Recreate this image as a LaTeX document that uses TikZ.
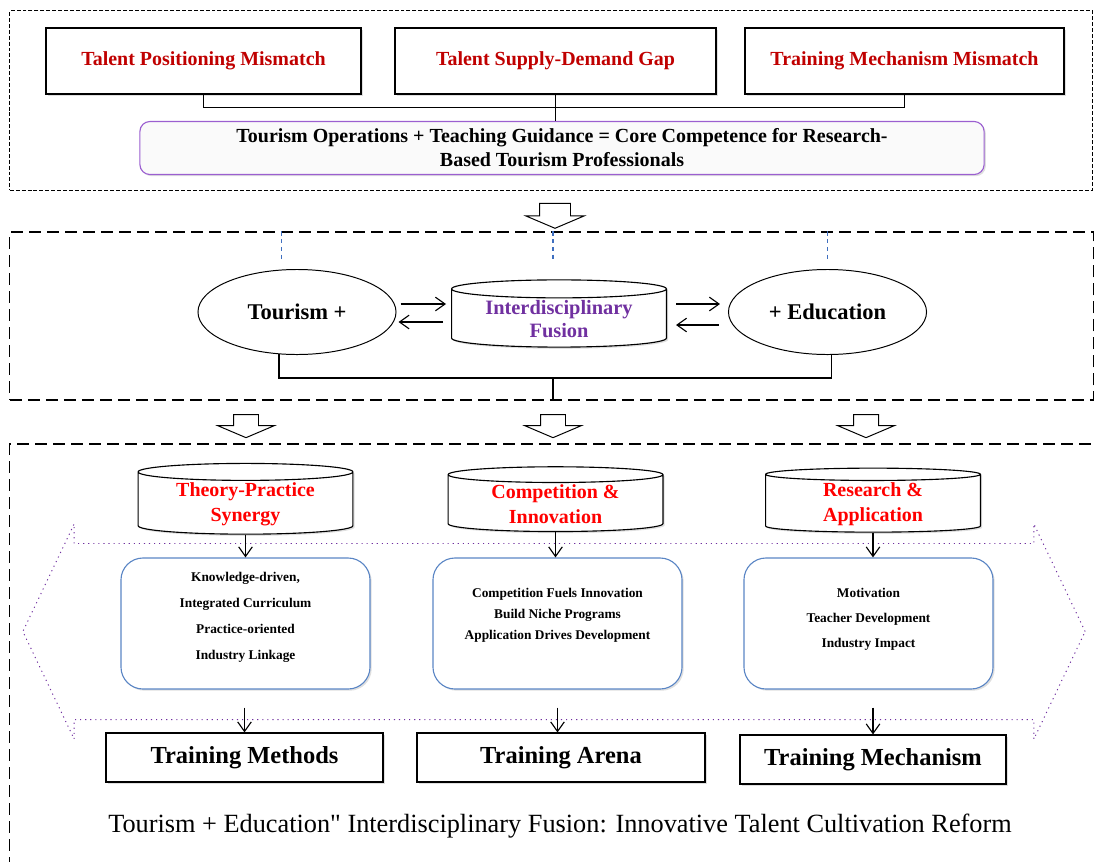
\documentclass[tikz,border=0pt]{standalone}
\usepackage{fontspec}
\setmainfont{Liberation Serif}
\usepackage{tikz}
\usetikzlibrary{shapes.geometric,shapes.arrows,shadows,calc,arrows.meta}

\definecolor{darkred}{HTML}{C00000}
\definecolor{fusepurple}{HTML}{7030A0}
\definecolor{edgepurple}{HTML}{9B5FD0}
\definecolor{boxblue}{HTML}{5B86C5}
\definecolor{guideblue}{HTML}{3F6FBF}

\tikzset{
    softshadow/.style = {drop shadow={shadow xshift=1.2pt, shadow yshift=-1.2pt, opacity=0.25, fill=gray}},
    panel/.style = {rectangle, draw=black, inner sep=0pt},
    finedash/.style = {line width=0.7pt, dash pattern=on 2.8pt off 1.4pt},
    longdash/.style = {line width=0.9pt, dash pattern=on 8.5pt off 4.3pt},
    issue/.style = {rectangle, minimum width=7.875cm, minimum height=1.65cm, text centered, draw=black, line width=0.8pt, fill=white, softshadow, text=darkred, font=\fontsize{14.2}{17}\selectfont\bfseries},
    core/.style = {rectangle, rounded corners=0.25cm, minimum width=21.1cm, minimum height=1.325cm, align=center, draw=edgepurple, line width=0.8pt, fill=gray!4, softshadow, font=\fontsize{14.2}{17}\selectfont\bfseries},
    pole/.style = {ellipse, minimum width=4.95cm, minimum height=2.125cm, draw=black, line width=0.7pt, fill=white, font=\fontsize{16}{19}\selectfont\bfseries},
    drum/.style = {cylinder, shape border rotate=90, aspect=0.12, inner sep=1pt, minimum width=5.37cm, minimum height=1.225cm, align=center, draw=black, line width=0.8pt, fill=white, softshadow, text=red, font=\fontsize{14.2}{17.8}\selectfont\bfseries},
    blockarrow/.style = {single arrow, rotate=-90, draw=black, line width=0.7pt, fill=white, inner xsep=0pt, single arrow tip angle=134},
    band/.style = {double arrow, draw=fusepurple, line width=0.7pt, dash pattern=on 0.8pt off 2.8pt, inner xsep=0pt, inner ysep=2.1875cm, double arrow head extend=0.49cm, double arrow tip angle=129, minimum height=26.55cm},
    skill/.style = {rectangle, rounded corners=0.55cm, minimum width=6.225cm, minimum height=3.275cm, align=center, draw=boxblue, line width=0.8pt, fill=white, softshadow, font=\fontsize{9.5}{18.5}\selectfont\bfseries},
    outcome/.style = {rectangle, minimum height=1.225cm, text centered, draw=black, line width=0.8pt, fill=white, softshadow, font=\fontsize{17.4}{20}\selectfont\bfseries},
    guide/.style = {draw=guideblue, line width=0.9pt, dash pattern=on 3pt off 2.5pt},
    link/.style = {line width=0.8pt},
    arrow/.style = {line width=0.8pt,-{Straight Barb[length=2.4mm,width=3.4mm]}}
}

\begin{document}
\begin{tikzpicture}[x=0.025cm, y=-0.025cm]
\useasboundingbox (0,0) rectangle (1095,861);
\clip (0,0) rectangle (1095,861);

% problems
\node (topframe) [panel, finedash, minimum width=27.05cm, minimum height=4.475cm] at (551,100.5) {};
\node (pos) [issue, minimum width=7.875cm] at (203.5,61) {Talent Positioning Mismatch};
\node (gap) [issue, minimum width=8.025cm] at (555.5,61) {Talent Supply-Demand Gap};
\node (mech) [issue, minimum width=7.975cm] at (904.5,61) {Training Mechanism Mismatch};
\node (core) [core] at (562,148) {Tourism Operations + Teaching Guidance = Core Competence for Research-\\Based Tourism Professionals};

\draw [link] (pos.south) -- ++(0,13) -| (mech.south);
\draw [link] (gap.south) -- (gap.south |- core.north);

\node (down0) [blockarrow, minimum height=0.625cm, inner ysep=0.375cm, single arrow head extend=0.34cm] at (555,212.5) {};

% fusion
\node (midframe) [panel, longdash, minimum width=27.075cm, minimum height=4.2cm] at (551.5,316) {};
\node (tour) [pole] at (297,312) {Tourism +};
\node (fusion) [drum, text=fusepurple, font=\fontsize{14.5}{17}\selectfont\bfseries] at (559,319) {Interdisciplinary\\Fusion};
\node (edu) [pole] at (827.5,312) {+ Education};

\draw [guide] (tour.110 |- midframe.north) -- ++(0,30);
\draw [guide] ($(fusion.north |- midframe.north)+(-6,0)$) -- ++(0,30);
\draw [guide] (edu.north |- midframe.north) -- ++(0,30);

\draw [arrow] ($(tour.east)+(4,-8)$) -- ($(tour.east -| fusion.west)+(-5,-8)$);
\draw [arrow] ($(tour.east -| fusion.west)+(-8,10)$) -- ($(tour.east)+(2,10)$);
\draw [arrow] ($(tour.east -| fusion.east)+(9,-8)$) -- ($(tour.east -| edu.west)+(-8,-8)$);
\draw [arrow] ($(tour.east -| edu.west)+(-9,13)$) -- ($(tour.east -| fusion.east)+(9,13)$);

\coordinate (join) at (553,378);
\draw [link] (tour.-113) |- (join) -| (edu.-85);
\draw [link] (join) -- (join |- midframe.south);

\node (down1) [blockarrow, minimum height=0.575cm, inner ysep=0.3cm, single arrow head extend=0.4cm] at (246,423.5) {};
\node (down2) [blockarrow, minimum height=0.575cm, inner ysep=0.3cm, single arrow head extend=0.4cm] at (553,423.5) {};
\node (down3) [blockarrow, minimum height=0.575cm, inner ysep=0.3cm, single arrow head extend=0.4cm] at (866,423.5) {};

% reform paths
\node (lowframe) [panel, longdash, minimum width=27.5cm, minimum height=11.15cm] at (560,667) {};
\node (band) [band] at (554,631.5) {};

\node (theory) [drum] at (245.5,504) {Theory-Practice\\Synergy};
\node (contest) [drum] at (555.5,504) {Competition \&\\Innovation};
\node (research) [drum] at (873,504) {Research \&\\Application};

\node (skillL) [skill, text depth=0.38cm] at (245.5,623.5) {Knowledge-driven,\\Integrated Curriculum\\Practice-oriented\\Industry Linkage};
\node (skillM) [skill, text depth=0.48cm, font=\fontsize{9.5}{15}\selectfont\bfseries] at (557.5,623.5) {Competition Fuels Innovation\\Build Niche Programs\\Application Drives Development};
\node (skillR) [skill, text depth=0.28cm, font=\fontsize{9.5}{18}\selectfont\bfseries] at (868.5,623.5) {Motivation\\Teacher Development\\Industry Impact};

\node (methods) [outcome, minimum width=6.925cm] at (244.5,757.5) {Training Methods};
\node (arena) [outcome, minimum width=7.2cm] at (561,757.5) {Training Arena};
\node (mechanism) [outcome, minimum width=6.65cm] at (873,759.5) {Training Mechanism};

\draw [arrow] (theory.south) -- (theory.south |- skillL.north);
\draw [arrow] (contest.south) -- (contest.south |- skillM.north);
\draw [arrow] (research.south) -- (research.south |- skillR.north);

\draw [arrow, shorten <=0.45cm] (skillL.south -| methods.north) -- (methods.north);
\draw [arrow, shorten <=0.45cm] (skillM.south) -- (skillM.south |- arena.north);
\draw [arrow, shorten <=0.45cm] (research.south |- skillR.south) -- (research.south |- mechanism.north);

\node (caption) [font=\fontsize{18.7}{22}\selectfont] at (560,826) {Tourism + Education\textquotedbl{} Interdisciplinary Fusion: Innovative Talent Cultivation Reform};
\end{tikzpicture}
\end{document}
